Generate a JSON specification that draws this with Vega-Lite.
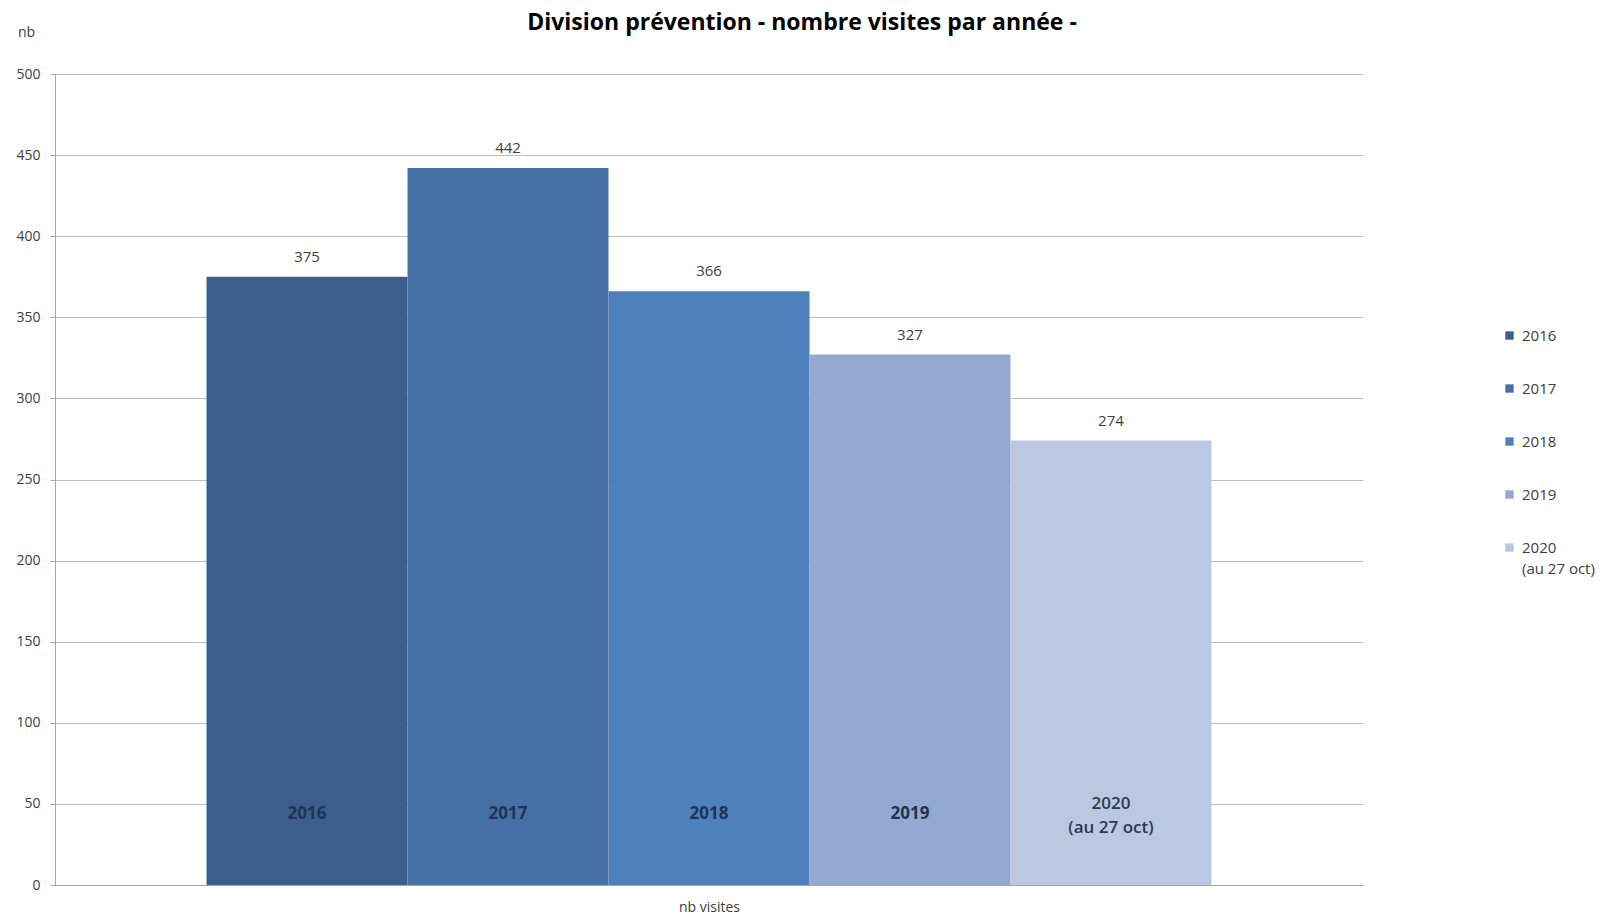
{
  "$schema": "https://vega.github.io/schema/vega-lite/v6.json",
  "autosize": {"type": "none"},
  "width": 1308,
  "height": 811,
  "padding": {"left": 55, "top": 74, "right": 247, "bottom": 31},
  "background": "white",
  "config": {
    "font": "Open Sans",
    "view": {"stroke": null},
    "style": {"guide-label": {"lineHeight": 21}}
  },
  "title": {
    "text": "Division prévention - nombre visites par année -",
    "font": "Open Sans",
    "fontSize": 23,
    "fontWeight": "bold",
    "color": "#000000",
    "anchor": "middle",
    "dx": 93,
    "offset": -10
  },
  "data": {
    "values": [
      {"annee": "2016", "visites": 375},
      {"annee": "2017", "visites": 442},
      {"annee": "2018", "visites": 366},
      {"annee": "2019", "visites": 327},
      {"annee": "2020\n(au 27 oct)", "visites": 274}
    ]
  },
  "encoding": {
    "x": {
      "field": "annee",
      "type": "nominal",
      "sort": null,
      "scale": {"paddingInner": 0, "paddingOuter": 0.754},
      "axis": {
        "labels": false,
        "ticks": false,
        "title": "nb visites",
        "titleFontSize": 14,
        "titleFontWeight": "normal",
        "titleColor": "#404040",
        "titlePadding": 15,
        "domainColor": "#a6a6a6",
        "domainWidth": 1
      }
    }
  },
  "layer": [
    {
      "mark": {"type": "bar"},
      "encoding": {
        "y": {
          "field": "visites",
          "type": "quantitative",
          "scale": {"domain": [0, 500], "nice": false},
          "axis": {
            "values": [0, 50, 100, 150, 200, 250, 300, 350, 400, 450, 500],
            "grid": true,
            "gridColor": "#bfbfbf",
            "gridWidth": 1,
            "domainColor": "#a6a6a6",
            "tickColor": "#a6a6a6",
            "tickSize": 5,
            "labelFontSize": 14,
            "labelColor": "#404040",
            "labelPadding": 10,
            "title": "nb",
            "titleAngle": 0,
            "titleX": -29,
            "titleY": -42,
            "titleAlign": "center",
            "titleBaseline": "middle",
            "titleFontSize": 14,
            "titleFontWeight": "normal",
            "titleColor": "#404040"
          }
        },
        "color": {
          "field": "annee",
          "type": "nominal",
          "sort": null,
          "scale": {"range": ["#3b5e8c", "#4571a6", "#4e80bc", "#94a9d0", "#bbc8e1"]},
          "legend": {
            "title": null,
            "orient": "none",
            "legendX": 1447,
            "legendY": 254,
            "padding": 0,
            "symbolType": "square",
            "symbolSize": 70,
            "symbolStrokeWidth": 0,
            "labelFontSize": 15,
            "labelColor": "#404040",
            "labelOffset": 5,
            "rowPadding": 37,
            "labelExpr": "split(datum.label, '\\n')",
            "labelBaseline": "middle"
          }
        }
      }
    },
    {
      "mark": {"type": "text", "dy": -20, "fontSize": 15, "color": "#404040"},
      "encoding": {
        "y": {"field": "visites", "type": "quantitative"},
        "text": {"field": "visites", "type": "quantitative"}
      }
    },
    {
      "transform": [{"filter": "datum.visites != 274"}],
      "mark": {"type": "text", "fontSize": 17, "fontWeight": "bold", "color": "#1f3456", "baseline": "middle"},
      "encoding": {
        "y": {"datum": 44, "type": "quantitative"},
        "text": {"field": "annee", "type": "nominal"}
      }
    },
    {
      "transform": [{"filter": "datum.visites == 274"}],
      "mark": {"type": "text", "fontSize": 17, "fontWeight": 600, "color": "#2b3a52", "lineBreak": "\n", "lineHeight": 24, "baseline": "middle"},
      "encoding": {
        "y": {"datum": 50, "type": "quantitative"},
        "text": {"field": "annee", "type": "nominal"}
      }
    }
  ]
}
